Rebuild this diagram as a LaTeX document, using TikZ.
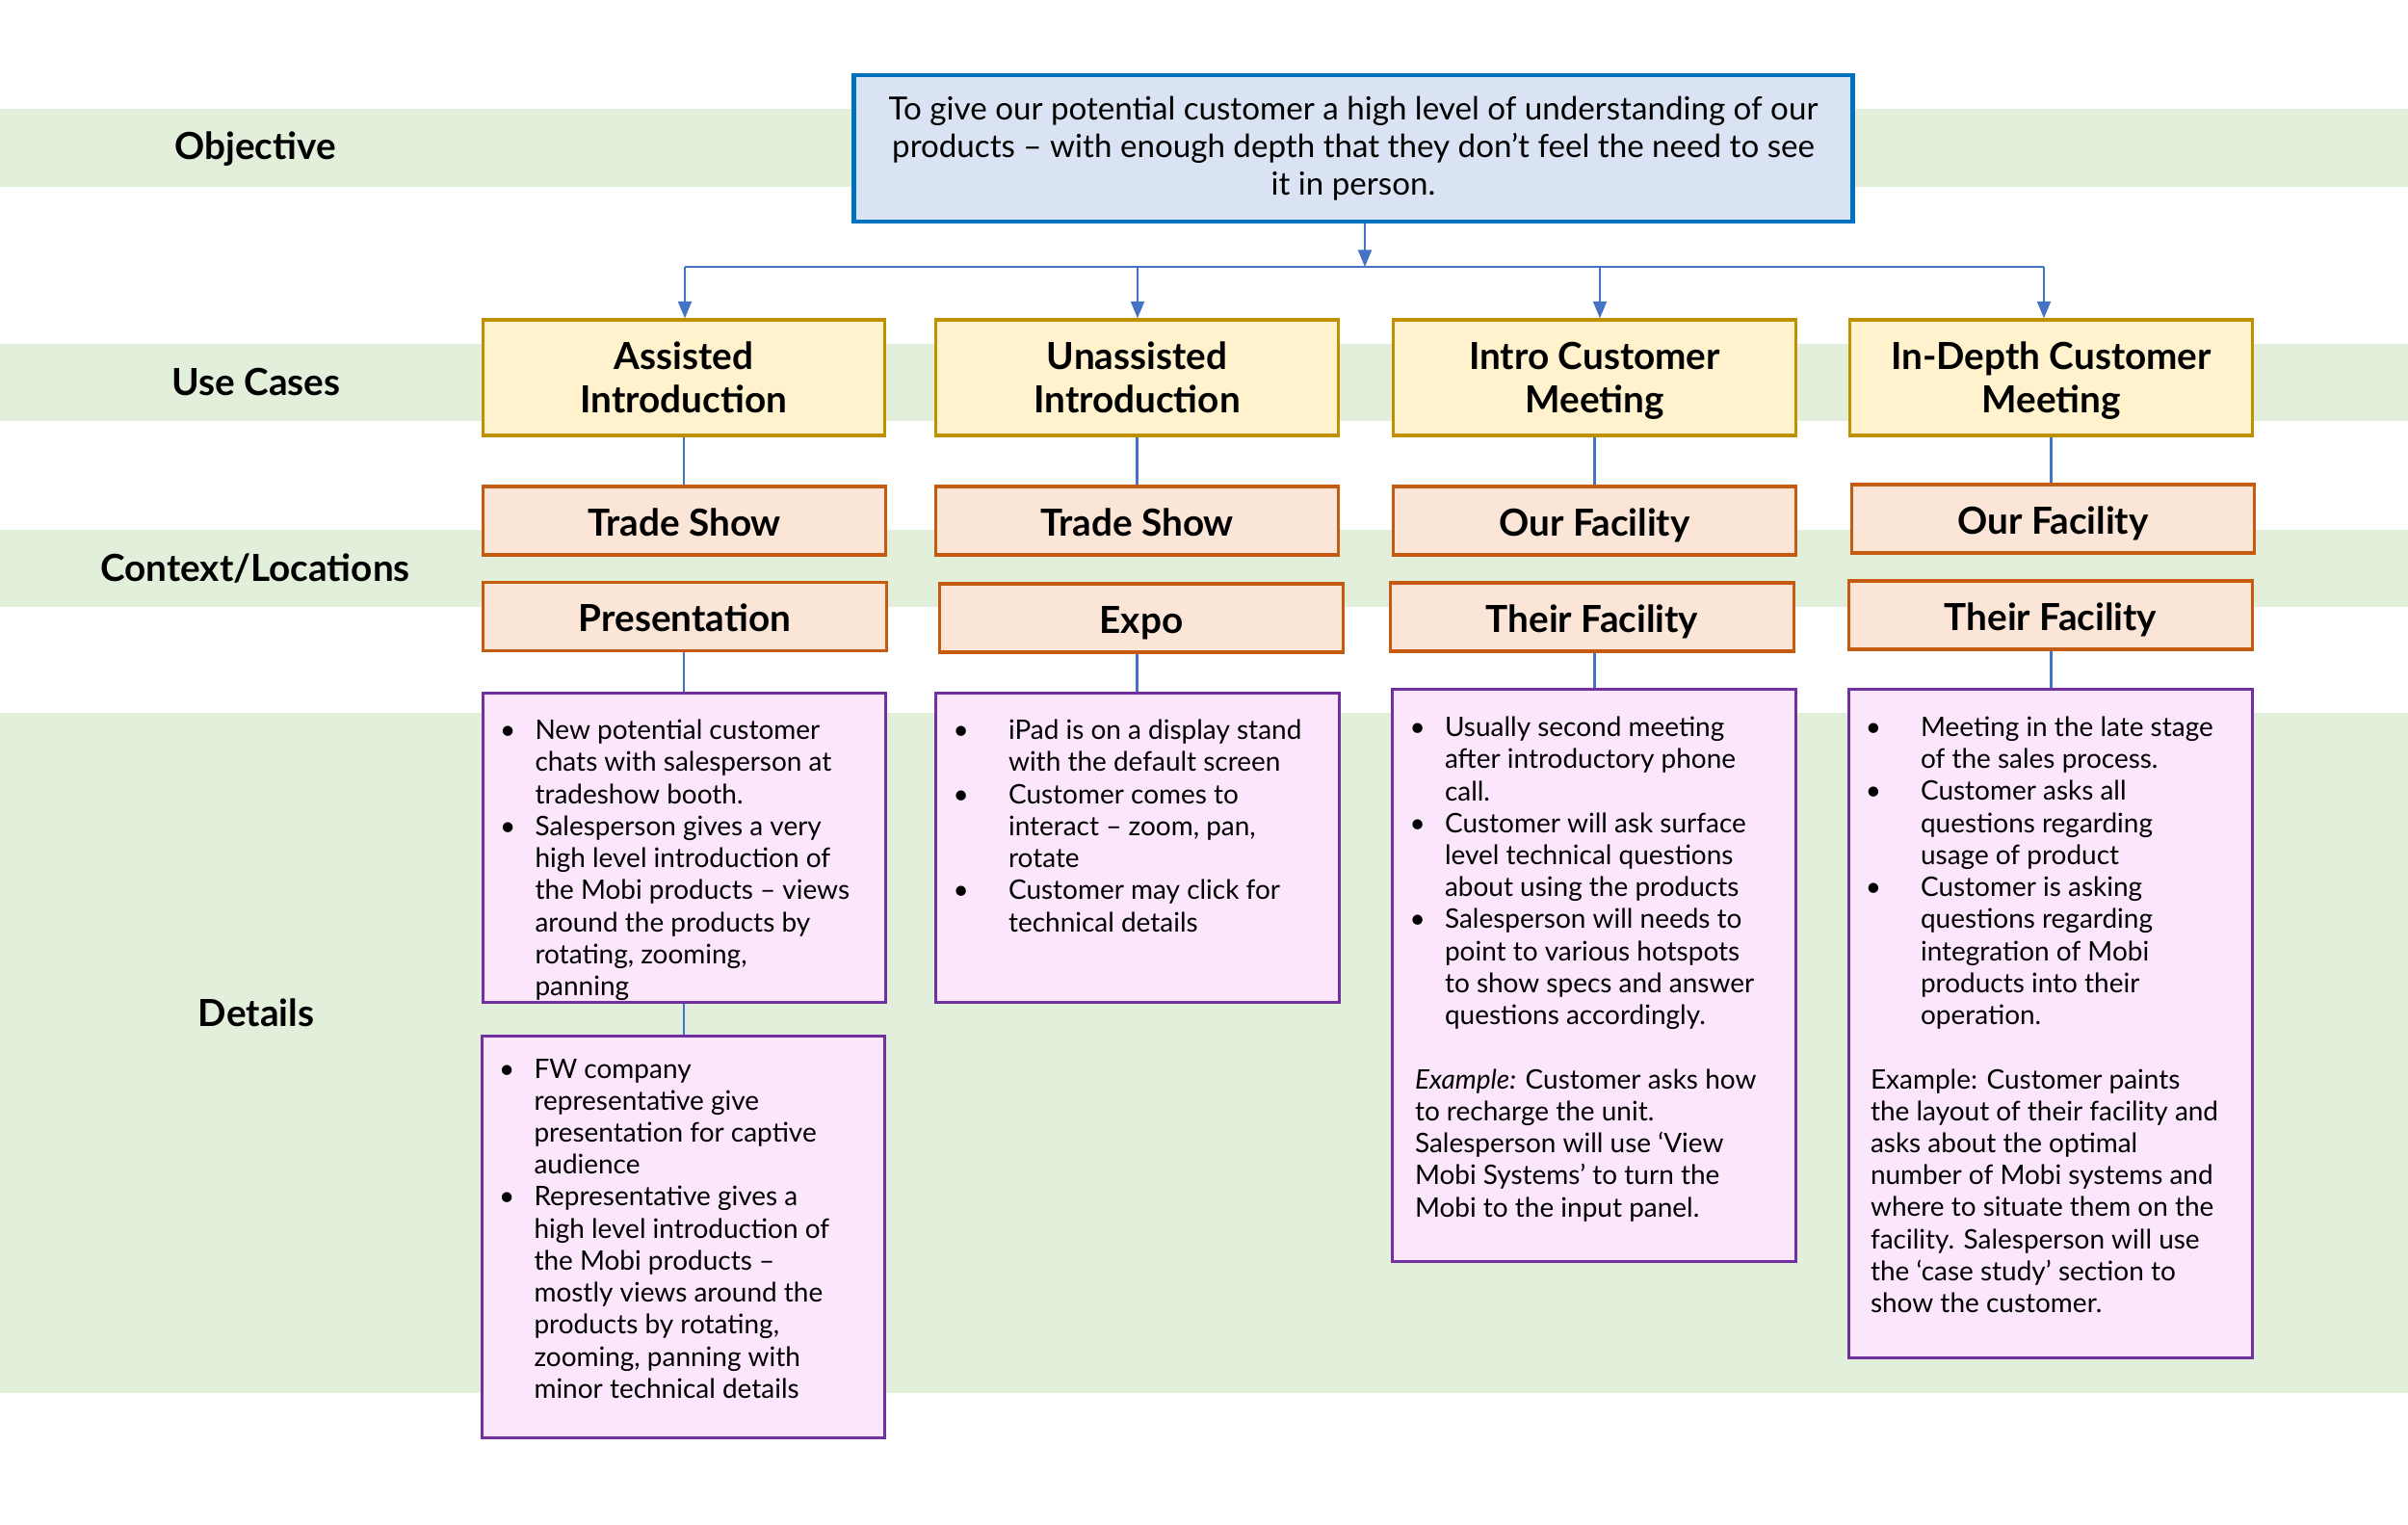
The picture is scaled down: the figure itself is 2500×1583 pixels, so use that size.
\documentclass[tikz,border=0pt]{standalone}
\usepackage{fontspec}
\setmainfont{Lato}
\usetikzlibrary{arrows.meta}

\definecolor{band}{HTML}{E2EFDA}
\definecolor{objfill}{HTML}{DAE3F3}
\definecolor{objline}{HTML}{0070C0}
\definecolor{ucfill}{HTML}{FFF2CC}
\definecolor{ucline}{HTML}{BF9000}
\definecolor{ctxfill}{HTML}{FBE5D6}
\definecolor{ctxline}{HTML}{C55A11}
\definecolor{detfill}{HTML}{FCE6FC}
\definecolor{detline}{HTML}{7030A0}
\definecolor{connline}{HTML}{4472C4}

% bullet width inside the detail boxes
\newlength\bw
\newcommand\bl[1]{\makebox[\bw][l]{\hspace*{-1.5pt}\textbullet}#1}
\newcommand\bc[1]{\hspace*{\bw}#1}
% equal height and depth for two-line titles
\newcommand\tp{\rule{0pt}{9.8pt}}
\newcommand\dg{\vphantom{g}}

\begin{document}
\begin{tikzpicture}[x=0.01cm,y=-0.01cm,
  box/.style={draw, line width=0.9pt, inner sep=0pt, align=center},
  objbox/.style={box, draw=objline, fill=objfill, line width=1.3pt,
    font=\fontsize{9.42}{11.1}\selectfont},
  ucbox/.style={box, draw=ucline, fill=ucfill, minimum width=4.17cm,
    minimum height=1.2cm, font=\bfseries\fontsize{11}{12.7}\selectfont},
  ctxbox/.style={box, draw=ctxline, fill=ctxfill, minimum width=4.18cm,
    minimum height=0.71cm, text height=9pt, text depth=0pt,
    font=\bfseries\fontsize{11}{12.7}\selectfont},
  detbox/.style={box, draw=detline, fill=detfill, minimum width=4.18cm},
  dettext/.style={anchor=north west, inner sep=0pt, align=left,
    font=\fontsize{7.95}{9.45}\selectfont},
  rowlabel/.style={text height=7.9pt, text depth=0pt,
    font=\bfseries\fontsize{11}{13}\selectfont},
  conn/.style={draw=connline, line width=0.6pt},
  arr/.style={conn, -{Triangle[length=5pt,width=4pt]}}
]
\useasboundingbox (0,0) rectangle (2500,1583);
\fill[white] (0,0) rectangle (2500,1583);

% row bands
\fill[band] (0,113) rectangle (2500,194);
\fill[band] (0,357) rectangle (2500,437);
\fill[band] (0,550) rectangle (2500,630);
\fill[band] (0,740) rectangle (2500,1446);

% row labels
\node[rowlabel] (lobj) at (265,151.5) {Objective};
\node[rowlabel] (luse) at (266,397) {Use Cases};
\node[rowlabel] (lctx) at (265,590) {Context/Locations};
\node[rowlabel] (ldet) at (266,1052) {Details};

% objective
\node[objbox, minimum width=10.36cm, minimum height=1.52cm] (obj) at (1405,154)
  {To give our potential customer a high level of understanding of our\\
   products – with enough depth that they don’t feel the need to see\\
   it in person.};

% use cases
\node[ucbox] (uc1) at (710,392) {\tp Assisted\\Introduction\dg};
\node[ucbox] (uc2) at (1180.5,392) {\tp Unassisted\\Introduction\dg};
\node[ucbox] (uc3) at (1655.5,392) {\tp Intro Customer\\Meeting\dg};
\node[ucbox] (uc4) at (2129.5,392) {\tp In-Depth Customer\\Meeting\dg};

% contexts
\node[ctxbox] (ts1) at (710.5,540.5) {Trade Show};
\node[ctxbox] (ts2) at (1180.5,540.5) {Trade Show};
\node[ctxbox] (of3) at (1655.5,540.5) {Our Facility};
\node[ctxbox] (of4) at (2131.5,538.5) {Our Facility};
\node[ctxbox] (pr1) at (711,640) {Presentation};
\node[ctxbox] (ex2) at (1185,641.5) {Expo};
\node[ctxbox] (tf3) at (1653,640.5) {Their Facility};
\node[ctxbox] (tf4) at (2129,638.5) {Their Facility};

% detail boxes
\node[detbox, minimum height=3.2cm] (d1a) at (710.5,880) {};
\node[detbox, minimum height=4.16cm] (d1b) at (709.5,1284) {};
\node[detbox, minimum height=3.2cm] (d2) at (1181,880) {};
\node[detbox, minimum height=5.93cm] (d3) at (1655,1012.5) {};
\node[detbox, minimum height=6.93cm] (d4) at (2129,1062.5) {};

\node[dettext] (t1a) at ([shift={(24,28)}]d1a.north west) {\global\bw=0.31cm
  \bl{New potential customer}\\
  \bc{chats with salesperson at}\\
  \bc{tradeshow booth.}\\
  \bl{Salesperson gives a very}\\
  \bc{high level introduction of}\\
  \bc{the Mobi products – views}\\
  \bc{around the products by}\\
  \bc{rotating, zooming,}\\
  \bc{panning}};

\node[dettext] (t1b) at ([shift={(24,24)}]d1b.north west) {\global\bw=0.31cm
  \bl{FW company}\\
  \bc{representative give}\\
  \bc{presentation for captive}\\
  \bc{audience}\\
  \bl{Representative gives a}\\
  \bc{high level introduction of}\\
  \bc{the Mobi products –}\\
  \bc{mostly views around the}\\
  \bc{products by rotating,}\\
  \bc{zooming, panning with}\\
  \bc{minor technical details}};

\node[dettext] (t2) at ([shift={(24,28)}]d2.north west) {\global\bw=0.52cm
  \bl{iPad is on a display stand}\\
  \bc{with the default screen}\\
  \bl{Customer comes to}\\
  \bc{interact – zoom, pan,}\\
  \bc{rotate}\\
  \bl{Customer may click for}\\
  \bc{technical details}};

\node[dettext] (t3) at ([shift={(24,29)}]d3.north west) {\global\bw=0.31cm
  \bl{Usually second meeting}\\
  \bc{after introductory phone}\\
  \bc{call.}\\
  \bl{Customer will ask surface}\\
  \bc{level technical questions}\\
  \bc{about using the products}\\
  \bl{Salesperson will needs to}\\
  \bc{point to various hotspots}\\
  \bc{to show specs and answer}\\
  \bc{questions accordingly.}\\
  \mbox{}\\
  \textit{Example:} Customer asks how\\
  to recharge the unit.\\
  Salesperson will use ‘View\\
  Mobi Systems’ to turn the\\
  Mobi to the input panel.};

\node[dettext] (t4) at ([shift={(23,29)}]d4.north west) {\global\bw=0.52cm
  \bl{Meeting in the late stage}\\
  \bc{of the sales process.}\\
  \bl{Customer asks all}\\
  \bc{questions regarding}\\
  \bc{usage of product}\\
  \bl{Customer is asking}\\
  \bc{questions regarding}\\
  \bc{integration of Mobi}\\
  \bc{products into their}\\
  \bc{operation.}\\
  \mbox{}\\
  Example: Customer paints\\
  the layout of their facility and\\
  asks about the optimal\\
  number of Mobi systems and\\
  where to situate them on the\\
  facility. Salesperson will use\\
  the ‘case study’ section to\\
  show the customer.};

% objective to use cases
\coordinate (busmid) at (1417,277);
\coordinate (bus1) at (711,277);
\coordinate (bus2) at (1181,277);
\coordinate (bus3) at (1661,277);
\coordinate (bus4) at (2122,277);
\draw[arr] (obj.south -| busmid) -- (busmid);
\draw[conn] (bus1) -- (bus4);
\draw[arr] (bus1) -- (bus1 |- uc1.north);
\draw[arr] (bus2) -- (bus2 |- uc2.north);
\draw[arr] (bus3) -- (bus3 |- uc3.north);
\draw[arr] (bus4) -- (bus4 |- uc4.north);

% use cases to contexts
\draw[conn] (uc1.south) -- (uc1.south |- ts1.north);
\draw[conn] (uc2.south) -- (uc2.south |- ts2.north);
\draw[conn] (uc3.south) -- (uc3.south |- of3.north);
\draw[conn] (uc4.south) -- (uc4.south |- of4.north);

% contexts to details
\draw[conn] (pr1.south -| uc1.south) -- (d1a.north -| uc1.south);
\draw[conn] (ex2.south -| uc2.south) -- (d2.north -| uc2.south);
\draw[conn] (tf3.south -| uc3.south) -- (d3.north -| uc3.south);
\draw[conn] (tf4.south -| uc4.south) -- (d4.north -| uc4.south);
\draw[conn] (d1a.south -| uc1.south) -- (d1b.north -| uc1.south);
\end{tikzpicture}
\end{document}
